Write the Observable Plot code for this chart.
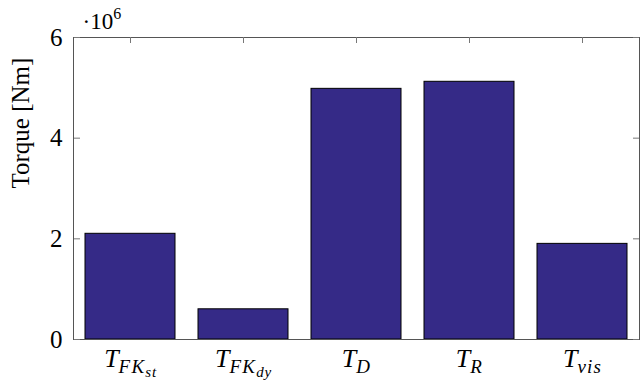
<!DOCTYPE html>
<html>
<head>
<meta charset="utf-8">
<script src="https://cdn.jsdelivr.net/npm/d3@7"></script>
<script src="https://cdn.jsdelivr.net/npm/@observablehq/plot@0.6"></script>
<style>
  body { margin: 0; background: #fff; }
  #chart svg { display: block; }
  #chart svg text, #chart svg tspan { font-family: "Liberation Serif", "DejaVu Serif", "Times New Roman", serif !important; }
</style>
</head>
<body>
<div id="chart"></div>
<script>
// Torque components (Nm)
const categories = ["T_FKst", "T_FKdy", "T_D", "T_R", "T_vis"];
const torque = [2.1e6, 0.6e6, 4.98e6, 5.12e6, 1.9e6];
// Tick label pieces: base symbol, subscript, second-level subscript
const labelBase = ["T", "T", "T", "T", "T"];
const labelSub = ["FK", "FK", "D", "R", "vis"];
const labelSubSub = ["st", "dy", "", "", ""];
const yTicks = [0, 2e6, 4e6, 6e6];
const yLabel = "Torque [Nm]";
const yScaleNote = ["·10", "6"];

const data = categories.map((c, i) => ({category: c, value: torque[i]}));

const serif = "Liberation Serif, DejaVu Serif, serif";
const axisColor = "#555";
const tickColor = "#777";

const chart = Plot.plot({
  width: 640,
  height: 383,
  marginLeft: 73,
  marginRight: 1,
  marginTop: 37,
  marginBottom: 44,
  style: {background: "#fff", color: "#000"},
  x: {type: "band", domain: categories, paddingInner: 0.2, paddingOuter: 0.1, label: null},
  y: {domain: [0, 6e6], label: null},
  marks: [
    Plot.barY(data, {x: "category", y: "value", fill: "#352a87", stroke: "#000", strokeWidth: 1}),
    Plot.frame({stroke: axisColor, strokeWidth: 1}),
    // inward tick marks on all sides
    Plot.axisY(yTicks, {anchor: "right", frameAnchor: "left", tickSize: 6, fill: "none", stroke: tickColor, label: null}),
    Plot.axisY(yTicks, {anchor: "left", frameAnchor: "right", tickSize: 6, fill: "none", stroke: tickColor, label: null}),
    Plot.axisX({anchor: "bottom", frameAnchor: "top", tickSize: 6, fill: "none", stroke: tickColor, label: null}),
    // tick labels
    Plot.axisY(yTicks, {anchor: "left", tickSize: 0, tickPadding: 11, fontSize: 25, fontFamily: serif, tickFormat: d => String(d / 1e6), label: null}),
    Plot.axisX({anchor: "bottom", tickSize: 0, tickPadding: 10, fontSize: 25, fontFamily: serif, tickFormat: d => d, label: null}),
    // axis title
    Plot.text([yLabel], {frameAnchor: "left", text: d => d, rotate: -90, dx: -53, fontSize: 25, fontFamily: serif, fill: "#000"}),
    // exponent note above the axis
    Plot.text([yScaleNote[0]], {frameAnchor: "top-left", text: d => d, dx: 9, dy: -9, textAnchor: "start", lineAnchor: "bottom", fontSize: 23, fontFamily: serif, fill: "#000", className: "exp-note"})
  ]
});

// Turn plain tick strings into math-style labels with nested subscripts
const ns = "http://www.w3.org/2000/svg";
const xLabels = chart.querySelectorAll('g[aria-label="x-axis tick label"] text');
xLabels.forEach((t, i) => {
  t.textContent = "";
  const parts = [[labelBase[i], 26, 0, 0], [labelSub[i], 19, 6, 1.2], [labelSubSub[i], 15, 4, 0.8]];
  parts.forEach(([s, size, dy, spacing]) => {
    if (!s) return;
    const ts = document.createElementNS(ns, "tspan");
    ts.textContent = s;
    ts.setAttribute("font-size", size);
    ts.setAttribute("font-style", "italic");
    if (spacing) ts.setAttribute("letter-spacing", spacing);
    if (dy) ts.setAttribute("dy", dy);
    t.appendChild(ts);
  });
});

const note = chart.querySelector(".exp-note text");
if (note) {
  const ts = document.createElementNS(ns, "tspan");
  ts.textContent = yScaleNote[1];
  ts.setAttribute("font-size", 16);
  ts.setAttribute("dy", -10);
  note.appendChild(ts);
}

document.getElementById("chart").appendChild(chart);
</script>
</body>
</html>
